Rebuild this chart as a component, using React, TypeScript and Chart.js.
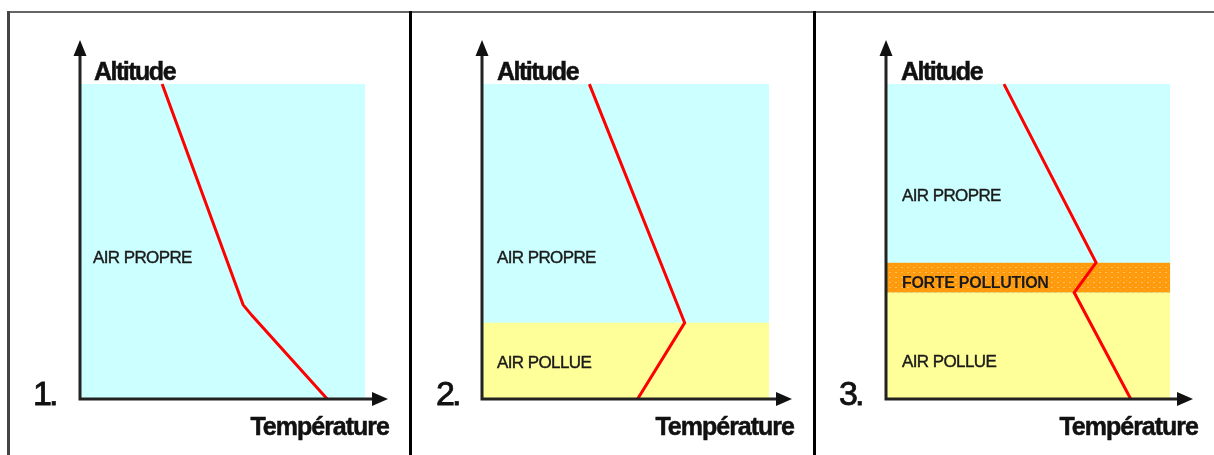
import React, { useEffect, useRef } from "react";
import { Chart, registerables } from "chart.js";

Chart.register(...registerables);

// ---- data (temperature in % of the coloured box width, altitude in % of its height) ----
const panel1Temp = [28.8, 57.2, 60.4, 86.7];
const panel1Alt = [100, 29.9, 26.4, 0];
const panel2Temp = [37.4, 70.6, 54.2];
const panel2Alt = [100, 24.2, 0];
const panel3Temp = [41.5, 73.9, 66.2, 86.1];
const panel3Alt = [100, 43.3, 33.8, 0];

const boxRight = 100;
const cleanAirTop = 100;
const polluted2Top = 24.2;
const polluted3Top = 33.8;
const strongPollutionTop = 43.3;

const xMax = 108;
const yMax = 114;

const panelNumbers = ["1.", "2.", "3."];
const yAxisTitle = "Altitude";
const xAxisTitle = "Température";
const cleanLabel = "AIR PROPRE";
const pollutedLabel = "AIR POLLUE";
const strongLabel = "FORTE POLLUTION";

// ---- layout ----
const W = 1214;
const H = 455;
const FONT = '"Liberation Sans", Arial, sans-serif';

type Lbl = { text: string; x: number; y: number; font: string; ls: number; stroke: number };

const layouts = [
  { axisX: 80, tipX: 388 },
  { axisX: 482, tipX: 792 },
  { axisX: 886, tipX: 1193 },
];
const axisBottom = 399;
const axisTop = 40;

function pts(xs: number[], ys: number[]) {
  return xs.map((x, i) => ({ x, y: ys[i] }));
}

function band(top: number) {
  return [
    { x: 0, y: top },
    { x: boxRight, y: top },
  ];
}

function makeOrangePattern(): CanvasPattern | string {
  const c = document.createElement("canvas");
  c.width = 6;
  c.height = 5;
  const g = c.getContext("2d");
  if (!g) return "#ff9c10";
  g.fillStyle = "#ff9a0c";
  g.fillRect(0, 0, 6, 5);
  g.fillStyle = "#ffbf5e";
  g.fillRect(1, 2, 2, 1);
  g.fillStyle = "#ffae3a";
  g.fillRect(4, 0, 1, 1);
  const p = g.createPattern(c, "repeat");
  return p || "#ff9c10";
}

export default function App() {
  const r1 = useRef<HTMLCanvasElement>(null);
  const r2 = useRef<HTMLCanvasElement>(null);
  const r3 = useRef<HTMLCanvasElement>(null);

  useEffect(() => {
    const orange = makeOrangePattern();
    const cyan = "#ccffff";
    const yellow = "#ffff99";
    const red = "#ff0000";

    const line = (data: { x: number; y: number }[]) => ({
      data,
      borderColor: red,
      borderWidth: 3,
      pointRadius: 0,
      fill: false,
      tension: 0,
      order: 0,
    });
    const area = (data: { x: number; y: number }[], color: any, order: number, fill: any = "origin") => ({
      data,
      borderWidth: 0,
      borderColor: "rgba(0,0,0,0)",
      backgroundColor: color,
      pointRadius: 0,
      fill,
      tension: 0,
      order,
    });

    const panelDatasets = [
      [line(pts(panel1Temp, panel1Alt)), area(band(cleanAirTop), cyan, 3)],
      [
        line(pts(panel2Temp, panel2Alt)),
        area(band(polluted2Top), yellow, 2),
        area(band(cleanAirTop), cyan, 3),
      ],
      [
        line(pts(panel3Temp, panel3Alt)),
        area(band(strongPollutionTop), orange, 1, { value: polluted3Top }),
        area(band(polluted3Top), yellow, 2),
        area(band(cleanAirTop), cyan, 3),
      ],
    ];

    const bold25 = `bold 25px ${FONT}`;
    const reg17 = `17px ${FONT}`;
    const num = `34px ${FONT}`;
    const panelLabels: Lbl[][] = [
      [{ text: cleanLabel, x: 93, y: 263, font: reg17, ls: -0.6, stroke: 0.4 }],
      [
        { text: cleanLabel, x: 497, y: 263, font: reg17, ls: -0.6, stroke: 0.4 },
        { text: pollutedLabel, x: 497, y: 368, font: reg17, ls: -0.6, stroke: 0.4 },
      ],
      [
        { text: cleanLabel, x: 902, y: 201, font: reg17, ls: -0.6, stroke: 0.4 },
        { text: strongLabel, x: 902, y: 288, font: `bold 16px ${FONT}`, ls: -0.3, stroke: 0 },
        { text: pollutedLabel, x: 902, y: 367, font: reg17, ls: -0.6, stroke: 0.4 },
      ],
    ];
    const numberX = [33, 436, 839];
    const titleX = [94, 497, 901];
    const xTitleRight = [389, 794, 1198];

    const charts = [r1, r2, r3].map((ref, i) => {
      const L = layouts[i];
      const decor = {
        id: "decor" + i,
        afterDatasetsDraw(chart: any) {
          const ctx = chart.ctx as CanvasRenderingContext2D;
          const a = chart.chartArea;
          ctx.save();
          // axes
          ctx.strokeStyle = "#222";
          ctx.fillStyle = "#111";
          ctx.lineWidth = 3;
          ctx.beginPath();
          ctx.moveTo(a.left, a.bottom + 1.5);
          ctx.lineTo(a.left, a.top + 12);
          ctx.moveTo(a.left - 1.5, a.bottom);
          ctx.lineTo(a.right - 12, a.bottom);
          ctx.stroke();
          ctx.beginPath();
          ctx.moveTo(a.left, a.top);
          ctx.lineTo(a.left - 6.5, a.top + 16);
          ctx.lineTo(a.left + 6.5, a.top + 16);
          ctx.closePath();
          ctx.fill();
          ctx.beginPath();
          ctx.moveTo(a.right, a.bottom);
          ctx.lineTo(a.right - 16, a.bottom - 7);
          ctx.lineTo(a.right - 16, a.bottom + 7);
          ctx.closePath();
          ctx.fill();
          // texts
          ctx.textBaseline = "alphabetic";
          const put = (
            t: string,
            x: number,
            y: number,
            font: string,
            ls: number,
            stroke: number,
            align: CanvasTextAlign = "left"
          ) => {
            ctx.font = font;
            (ctx as any).letterSpacing = ls + "px";
            ctx.textAlign = align;
            ctx.fillText(t, x, y);
            if (stroke > 0) {
              ctx.lineWidth = stroke;
              ctx.strokeStyle = ctx.fillStyle as string;
              ctx.strokeText(t, x, y);
            }
          };
          ctx.fillStyle = "#111111";
          put(yAxisTitle, titleX[i], 80, bold25, -1.5, 0.5);
          put(xAxisTitle, xTitleRight[i], 435, bold25, -1, 0.5, "right");
          put(panelNumbers[i], numberX[i], 405, num, -3, 0.8);
          ctx.fillStyle = "#1a1a1a";
          panelLabels[i].forEach((l) => put(l.text, l.x, l.y, l.font, l.ls, l.stroke));
          ctx.restore();
        },
      };
      return new Chart(ref.current as HTMLCanvasElement, {
        type: "line",
        data: { datasets: panelDatasets[i] as any },
        options: {
          animation: false,
          responsive: false,
          events: [],
          layout: {
            padding: {
              left: L.axisX,
              right: W - L.tipX,
              top: axisTop,
              bottom: H - axisBottom,
            },
          },
          scales: {
            x: { type: "linear", min: 0, max: xMax, display: false },
            y: { type: "linear", min: 0, max: yMax, display: false },
          },
          plugins: {
            legend: { display: false },
            tooltip: { enabled: false },
            filler: { propagate: false },
          },
        },
        plugins: [decor],
      });
    });
    return () => charts.forEach((c) => c.destroy());
  }, []);

  const cv: React.CSSProperties = { position: "absolute", left: 0, top: 0, width: W, height: H };
  return (
    <div style={{ position: "absolute", left: 0, top: 0, width: W, height: H, background: "#fff", overflow: "hidden" }}>
      <div style={{ position: "absolute", left: 8, top: 11, width: W - 8, height: 2, background: "#666" }} />
      <div style={{ position: "absolute", left: 7, top: 11, width: 3, height: H - 11, background: "#444" }} />
      <div style={{ position: "absolute", left: 409, top: 11, width: 3, height: H - 11, background: "#000" }} />
      <div style={{ position: "absolute", left: 813, top: 11, width: 3, height: H - 11, background: "#000" }} />
      <canvas ref={r1} width={W} height={H} style={cv} />
      <canvas ref={r2} width={W} height={H} style={cv} />
      <canvas ref={r3} width={W} height={H} style={cv} />
    </div>
  );
}
